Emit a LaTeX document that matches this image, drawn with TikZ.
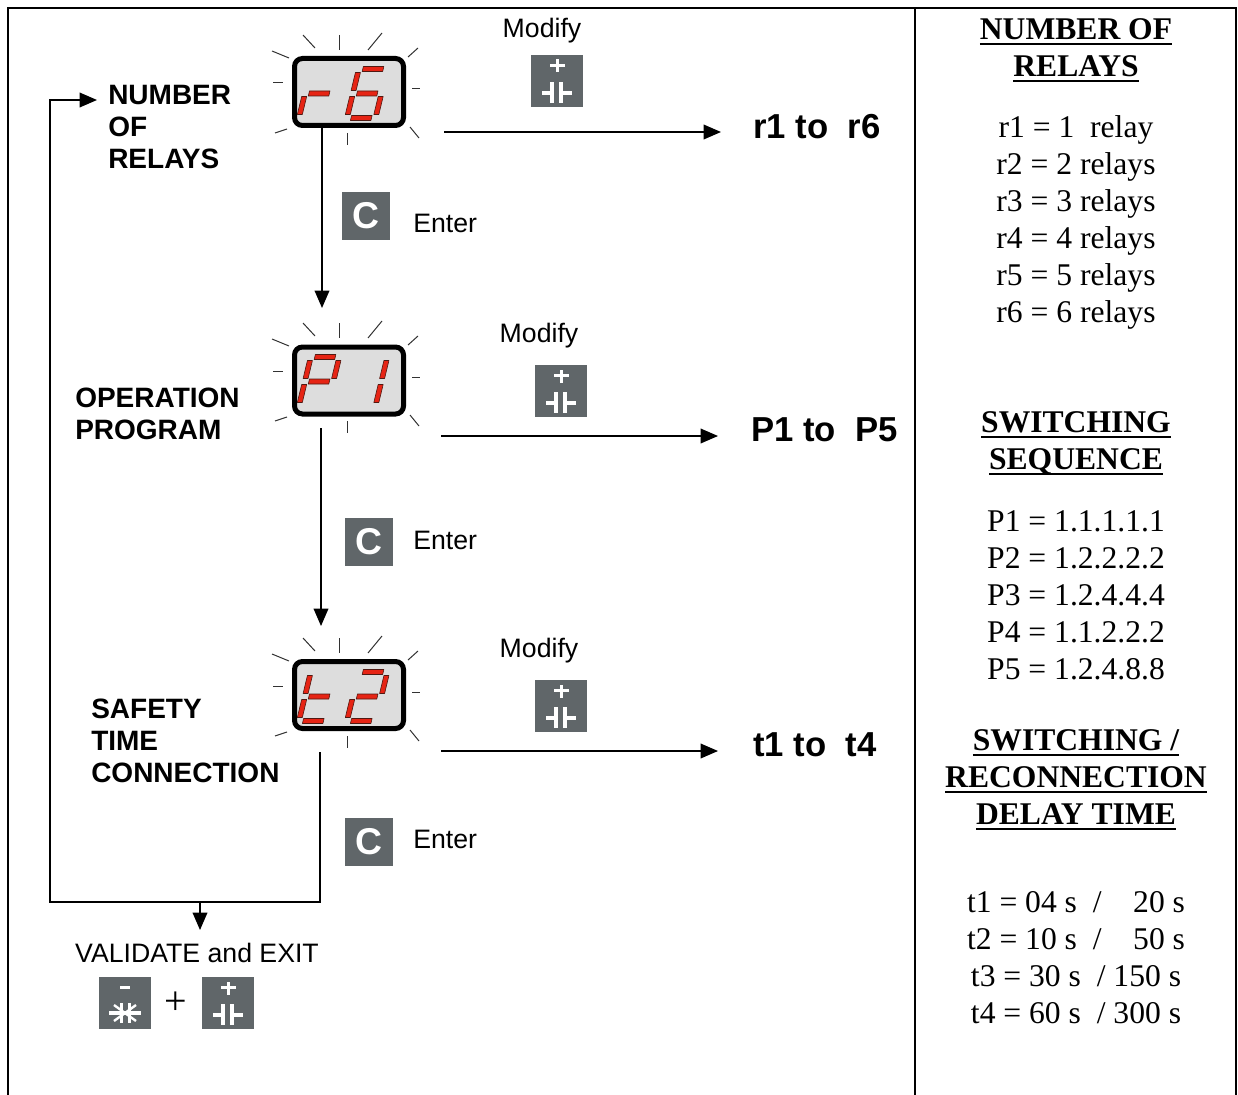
\documentclass[tikz,border=0pt]{standalone}
\usepackage{fontspec}
\setmainfont{Liberation Serif}
\setsansfont{Liberation Sans}
\usetikzlibrary{arrows.meta,calc}
\newcommand\myul[1]{\setbox0\hbox{#1}\rlap{\rule[-4.2pt]{\wd0}{1.6pt}}\box0}
\definecolor{btncol}{RGB}{96,102,105}
\definecolor{segred}{RGB}{230,36,20}
\definecolor{segedge}{RGB}{80,25,18}
\definecolor{lcdcol}{RGB}{221,221,221}
\definecolor{raycol}{RGB}{50,50,50}

\tikzset{
  frame/.style={line width=1.5pt, black},
  conn/.style={line width=1pt, black},
  arr/.style={conn, -{Triangle[length=13pt,width=11pt]}},
  seg/.style={fill=segred, draw=segedge, line width=0.45pt, line join=round},
  lcd/.style={draw=black, fill=lcdcol, line width=3.75pt, rounded corners=6pt,
              minimum width=81.75pt, minimum height=50.25pt, inner sep=0pt},
  ray/.style={line width=0.75pt, raycol},
  btn/.style={fill=btncol, draw=none, minimum size=39pt, inner sep=0pt},
  cbtn/.style={fill=btncol, draw=none, minimum size=36pt, inner sep=0pt,
               text=white, font=\sffamily\bfseries\fontsize{28}{28}\selectfont},
  lbl/.style={inner sep=0pt, font=\sffamily\bfseries\fontsize{21}{24}\selectfont, align=left, anchor=west},
  mod/.style={inner sep=0pt, font=\sffamily\fontsize{20}{24}\selectfont},
  big/.style={inner sep=0pt, anchor=west, font=\sffamily\bfseries\fontsize{26}{30}\selectfont},
  rhead/.style={inner sep=0pt, align=center, font=\rmfamily\bfseries\fontsize{23.7}{27.75}\selectfont},
  rlist/.style={inner sep=0pt, align=center, font=\rmfamily\fontsize{23.7}{27.75}\selectfont},
}

% horizontal segment: #1 X, #2 Y, #3 u1, #4 u2, #5 v
\newcommand\hsg[5]{%
  \filldraw[seg] ({#1+#3+0.24*(62-(#5-2.5))},{#2+#5-2.5}) -- ({#1+#4+0.24*(62-(#5-2.5))},{#2+#5-2.5})
   -- ({#1+#4+0.24*(62-(#5+2.5))},{#2+#5+2.5}) -- ({#1+#3+0.24*(62-(#5+2.5))},{#2+#5+2.5}) -- cycle;}
% vertical segment: #1 X, #2 Y, #3 u, #4 v1, #5 v2
\newcommand\vsg[5]{%
  \filldraw[seg] ({#1+#3-2.5+0.24*(62-#4)},{#2+#4}) -- ({#1+#3+2.5+0.24*(62-#4)},{#2+#4})
   -- ({#1+#3+2.5+0.24*(62-#5)},{#2+#5}) -- ({#1+#3-2.5+0.24*(62-#5)},{#2+#5}) -- cycle;}
\newcommand\segA[2]{\hsg{#1}{#2}{4}{24.5}{13}}
\newcommand\segB[2]{\vsg{#1}{#2}{28.5}{16.5}{34.5}}
\newcommand\segC[2]{\vsg{#1}{#2}{28.5}{40.5}{58.5}}
\newcommand\segD[2]{\hsg{#1}{#2}{4}{24.5}{62}}
\newcommand\segE[2]{\vsg{#1}{#2}{0}{40.5}{58.5}}
\newcommand\segF[2]{\vsg{#1}{#2}{0}{16.5}{34.5}}
\newcommand\segG[2]{\hsg{#1}{#2}{4}{24.5}{37.5}}

% rays around display, #1 X, #2 Y = outer top-left of display
\newcommand\rays[2]{%
  \foreach \a/\b/\c/\d in {11/-21/23/-8, 47/-21/47/-6, 90/-23/76/-6, 126/-8/116/1,
     120/33/128/33, 118/71/127/82, 55/77/55/89, -17/77/-5/73, -19/27/-9/27, -20/-5/-3/2}
    {\draw[ray] ({#1+\a},{#2+\b}) -- ({#1+\c},{#2+\d});}}

% plus button: #1 name, #2 x, #3 y (top-left)
\newcommand\plusbtn[3]{%
  \node[btn] (#1) at ({#2+26},{#3+26}) {};
  \fill[white] ({#2+18.5},{#3+9.2}) rectangle ({#2+33.5},{#3+12.2});
  \fill[white] ({#2+24.5},{#3+4.5}) rectangle ({#2+27.5},{#3+17.5});
  \fill[white] ({#2+10.5},{#3+36}) rectangle ({#2+19.5},{#3+40});
  \fill[white] ({#2+19},{#3+27}) rectangle ({#2+23},{#3+48});
  \fill[white] ({#2+28},{#3+27}) rectangle ({#2+32},{#3+48});
  \fill[white] ({#2+31.5},{#3+36}) rectangle ({#2+41},{#3+40});}
% minus button
\newcommand\minusbtn[3]{%
  \node[btn] (#1) at ({#2+26},{#3+26}) {};
  \fill[white] ({#2+21},{#3+8.5}) rectangle ({#2+31},{#3+11.5});
  \fill[white] ({#2+10},{#3+34}) rectangle ({#2+42},{#3+37.5});
  \fill[white] ({#2+21},{#3+26}) rectangle ({#2+24},{#3+46});
  \fill[white] ({#2+28.5},{#3+26}) rectangle ({#2+31.5},{#3+46});
  \draw[white, line width=1.8pt] ({#2+15},{#3+28}) -- ({#2+37},{#3+44});
  \draw[white, line width=1.8pt] ({#2+15},{#3+44}) -- ({#2+37},{#3+28});}

\begin{document}
\begin{tikzpicture}[x=0.75pt, y=-0.75pt]
\useasboundingbox (0,0) rectangle (1238,1095);

% frame
\draw[frame] (8,1095) -- (8,8) -- (1236,8) -- (1236,1095);
\draw[frame] (915,8) -- (915,1095);

% displays
\node[lcd] (d1) at (349,92) {};
\node[lcd] (d2) at (349,380.5) {};
\node[lcd] (d3) at (349,695) {};
\rays{292}{56}
\rays{292}{344}
\rays{292}{659}
% r6
\segE{299}{56}\segG{299}{56}
\segA{347}{56}\segF{347}{56}\segG{347}{56}\segE{347}{56}\segD{347}{56}\segC{347}{56}
% P1
\segA{299}{344}\segB{299}{344}\segF{299}{344}\segG{299}{344}\segE{299}{344}
\segB{347}{344}\segC{347}{344}
% t2
\segF{299}{659}\segG{299}{659}\segE{299}{659}\segD{299}{659}
\segA{347}{659}\segB{347}{659}\segG{347}{659}\segE{347}{659}\segD{347}{659}

% left labels
\node[lbl] (l1) at (108,127) {NUMBER\\OF\\RELAYS};
\node[lbl] (l2) at (75,413.5) {OPERATION\\PROGRAM};
\node[lbl] (l3) at (91,741) {SAFETY\\TIME\\CONNECTION};

% modify labels and buttons
\node[mod] (m1) at (542,31) {Modify};
\node[mod] (m2) at (539,336) {Modify};
\node[mod] (m3) at (539,651) {Modify};
\plusbtn{p1}{531}{55}
\plusbtn{p2}{535}{365}
\plusbtn{p3}{535}{680}

% C buttons and Enter
\node[cbtn] (c1) at (366,215.5) {C};
\node[cbtn] (c2) at (368.5,542) {C};
\node[cbtn] (c3) at (368.5,842) {C};
\node[mod, anchor=west] (e1) at (413,223) {Enter};
\node[mod, anchor=west] (e2) at (413,540) {Enter};
\node[mod, anchor=west] (e3) at (413,839) {Enter};

% result labels
\node[big] (r1) at (753,127) {r1 to \ r6};
\node[big] (r2) at (751,430) {P1 to \ P5};
\node[big] (r3) at (753,745) {t1 to \ t4};

% connectors
\coordinate (a1s) at (322,128); \coordinate (a1e) at (322,308);
\coordinate (a2s) at (321,428); \coordinate (a2e) at (321,626);
\coordinate (a3s) at (320,752); \coordinate (k1) at (320,902);
\coordinate (k2) at (50,902); \coordinate (k3) at (50,100); \coordinate (k4) at (97,100);
\coordinate (v1) at (200,902); \coordinate (v2) at (200,930);
\draw[arr] (a1s) -- (a1e);
\draw[arr] (a2s) -- (a2e);
\draw[arr] (a3s) -- (k1) -- (k2) -- (k3) -- (k4);
\draw[arr] (v1) -- (v2);
\coordinate (h1s) at (444,132); \coordinate (h1e) at (721,132);
\coordinate (h2s) at (441,436); \coordinate (h2e) at (718,436);
\coordinate (h3s) at (441,751); \coordinate (h3e) at (718,751);
\draw[arr] (h1s) -- (h1e);
\draw[arr] (h2s) -- (h2e);
\draw[arr] (h3s) -- (h3e);

% validate and exit
\node[mod] (val) at (197,953) {VALIDATE and EXIT};
\minusbtn{bm}{99}{977}
\plusbtn{bp}{202}{977}
\node[inner sep=0pt, font=\rmfamily\fontsize{30}{30}\selectfont] (plus) at (176,1003) {+};

% right column
\node[rhead] (t1) at (1076,50) {\myul{NUMBER OF}\\\myul{RELAYS}};
\node[rlist] (t2) at (1076,222) {r1 = 1\ \ relay\\r2 = 2 relays\\r3 = 3 relays\\r4 = 4 relays\\r5 = 5 relays\\r6 = 6 relays};
\node[rhead] (t3) at (1076,443) {\myul{SWITCHING}\\\myul{SEQUENCE}};
\node[rlist] (t4) at (1076,595) {P1 = 1.1.1.1.1\\P2 = 1.2.2.2.2\\P3 = 1.2.4.4.4\\P4 = 1.1.2.2.2\\P5 = 1.2.4.8.8};
\node[rhead] (t5) at (1076,780) {\myul{SWITCHING /}\\\myul{RECONNECTION}\\\myul{DELAY TIME}};
\node[rlist] (t6) at (1076,958) {t1 = 04 s\ \ /\ \ \phantom{1}20 s\\t2 = 10 s\ \ /\ \ \phantom{1}50 s\\t3 = 30 s\ \ / 150 s\\t4 = 60 s\ \ / 300 s};
\end{tikzpicture}
\end{document}
